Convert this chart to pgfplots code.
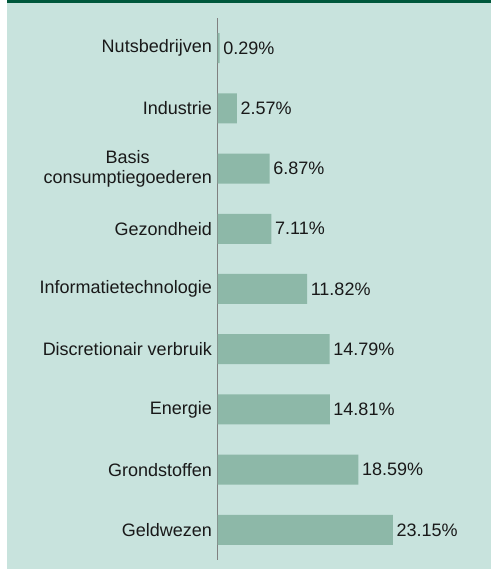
\documentclass[border=0pt]{standalone}
\usepackage{pgfplots}
\pgfplotsset{compat=1.18}
\usepackage{fontspec}
\setmainfont{Liberation Sans}
\definecolor{bgmint}{RGB}{200,227,221}
\definecolor{barg}{RGB}{141,184,168}
\definecolor{topg}{RGB}{0,88,60}
\definecolor{axgray}{RGB}{128,128,128}
\begin{document}
\begin{tikzpicture}[x=1bp,y=1bp]
\useasboundingbox (0,0) rectangle (491,569);
\fill[white] (0,0) rectangle (491,569);
\fill[bgmint] (7,0) rectangle (491,566);
\fill[topg] (7,566) rectangle (491,569);
\begin{axis}[
  at={(217.5bp,9bp)}, anchor=south west,
  scale only axis,
  width=272.9bp, height=542bp,
  xmin=0, xmax=36,
  ymin=-0.5, ymax=8.5,
  xbar, bar width=30bp,
  axis x line=none,
  axis y line*=left,
  y axis line style={draw=axgray, line width=1bp},
  ytick={0,...,8},
  yticklabels={Geldwezen,Grondstoffen,Energie,Discretionair verbruik,Informatietechnologie,Gezondheid,{Basis\\consumptiegoederen},Industrie,Nutsbedrijven},
  yticklabel style={font=\fontsize{18bp}{20bp}\selectfont, align=center, text=black!90, inner xsep=5.5bp},
  major tick length=0pt,
  point meta=x,
  nodes near coords={\pgfmathprintnumber[fixed,fixed zerofill,precision=2,assume math mode=true]{\pgfplotspointmeta}\%},
  nodes near coords style={font=\fontsize{18bp}{20bp}\selectfont, text=black!90, inner xsep=3.5bp},
  clip=false,
]
\addplot[fill=barg, draw=none] coordinates {
(23.15,0) (18.59,1) (14.81,2) (14.79,3) (11.82,4) (7.11,5) (6.87,6) (2.57,7) (0.29,8)
};
\end{axis}
\end{tikzpicture}
\end{document}
